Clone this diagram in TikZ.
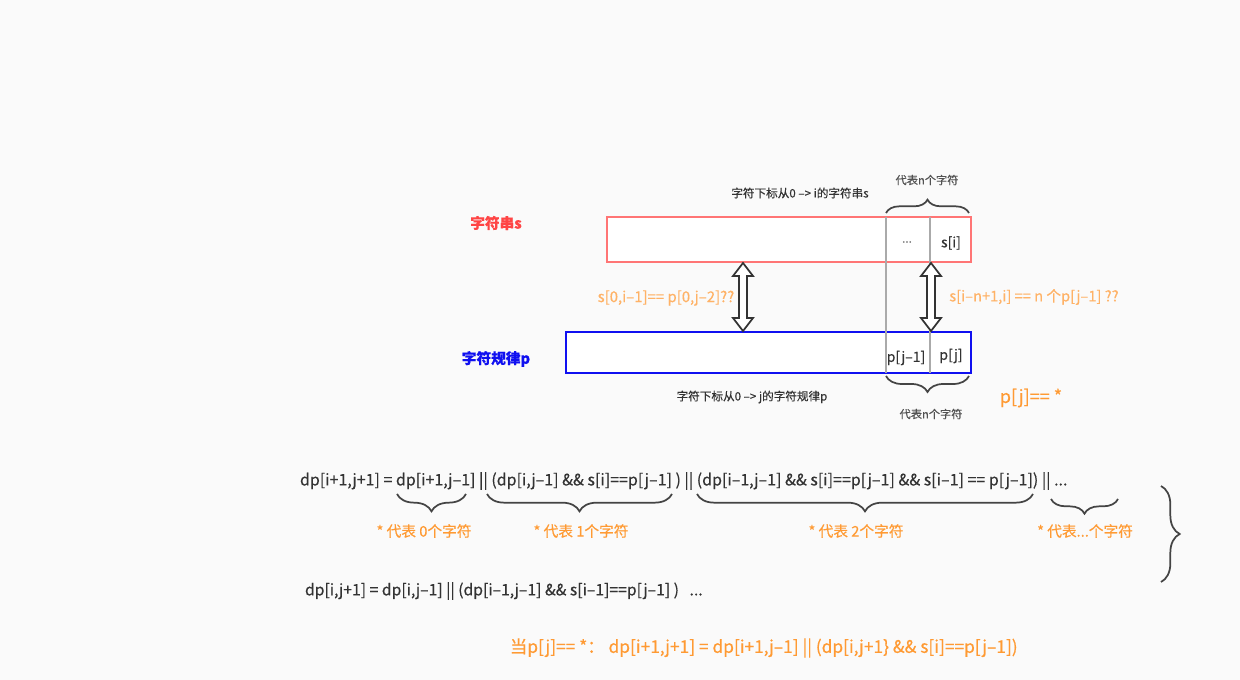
\documentclass[tikz,border=0pt]{standalone}
\usepackage{fontspec}
\setmainfont{Noto Sans CJK SC}[FakeBold=0.35]
\usetikzlibrary{decorations.pathreplacing,calc}
\definecolor{bg}{HTML}{FAFAFA}
\definecolor{txt}{HTML}{333333}
\definecolor{sred}{HTML}{FF7575}
\definecolor{slab}{HTML}{FF4545}
\definecolor{pblue}{HTML}{1010F0}
\definecolor{orng}{HTML}{FF9A33}
\definecolor{lorng}{HTML}{FFB266}
\definecolor{gline}{HTML}{AAAAAA}
\definecolor{brc}{HTML}{444444}
\begin{document}
\begin{tikzpicture}[x=0.75pt,y=-0.75pt,
  every node/.style={inner sep=0pt, outer sep=0pt, text=txt},
  small/.style={font=\fontsize{8.7pt}{10pt}\selectfont},
  smallg/.style={font=\fontsize{8.4pt}{10pt}\selectfont, text=txt!85},
  mid/.style={font=\fontsize{10.5pt}{12pt}\selectfont},
  olab/.style={font=\fontsize{11pt}{13pt}\selectfont, text=orng},
  brace/.style={draw=brc, line width=1.3pt, decorate, decoration={brace, amplitude=#1}},
  dblarrow/.style={draw=txt, fill=white, line width=1.3pt, line join=miter}
]
\useasboundingbox[fill=bg] (0,0) rectangle (1240,680);

% boxes
\node[draw=sred, line width=1.5pt, fill=white, minimum width=364*0.75pt, minimum height=45*0.75pt, anchor=north west] (sbox) at (607,217) {};
\node[draw=pblue, line width=1.5pt, fill=white, minimum width=405*0.75pt, minimum height=41*0.75pt, anchor=north west] (pbox) at (566,332) {};

% gray lines
\coordinate (g1t) at (886,217);
\coordinate (g1b) at (886,373);
\coordinate (g2t) at (930,217);
\coordinate (g2b) at (930,373);
\draw[gline, line width=0.9pt] (g1t) -- (g1b);
\draw[gline, line width=0.9pt] (g2t) -- (g2b);

% double arrows
\coordinate (a1t) at (743,263);
\coordinate (a1b) at (743,331);
\coordinate (a2t) at (931,263);
\coordinate (a2b) at (931,331);
\foreach \t/\b in {a1t/a1b, a2t/a2b}{
  \draw[dblarrow] (\t) -- ($(\t)+(10,13)$) -- ($(\t)+(4,13)$) -- ($(\b)+(4,-13)$) -- ($(\b)+(10,-13)$) -- (\b)
     -- ($(\b)+(-10,-13)$) -- ($(\b)+(-4,-13)$) -- ($(\t)+(-4,13)$) -- ($(\t)+(-10,13)$) -- cycle;
}

% labels
\node[font=\fontsize{11pt}{13pt}\selectfont\bfseries, text=slab] (slabel) at (496,223) {字符串s};
\node[font=\fontsize{11pt}{13pt}\selectfont\bfseries, text=pblue] (plabel) at (496,359) {字符规律p};
\node[small] (stitle) at (800,193) {字符下标从0 –> i的字符串s};
\node[small] (ptitle) at (752,397) {字符下标从0 –> j的字符规律p};
\node[smallg] (ntop) at (927,180) {代表n个字符};
\node[smallg] (nbot) at (931,414) {代表n个字符};
\node[small, text=gray] (dots) at (907,242) {...};
\node[mid] (si) at (951,243) {s[i]};
\node[mid] (pj1) at (906,358) {p[j–1]};
\node[mid] (pj) at (951,356) {p[j]};
\node[font=\fontsize{13.5pt}{15pt}\selectfont, text=orng] (pjstar) at (1031,398) {p[j]== *};
\node[font=\fontsize{11.2pt}{13pt}\selectfont, text=lorng] (q1) at (666,298) {s[0,i–1]== p[0,j–2]??};
\node[font=\fontsize{11pt}{13pt}\selectfont, text=lorng] (q2) at (1034,297) {s[i–n+1,i] == n 个p[j–1] ??};

% braces around boxes
\coordinate (bt1) at (886,213);
\coordinate (bt2) at (969,213);
\draw[brace=10pt] (bt1) -- (bt2);
\coordinate (bb1) at (886,376);
\coordinate (bb2) at (969,376);
\draw[brace=12pt] (bb2) -- (bb1);

% formulas
\node[font=\fontsize{12pt}{14pt}\selectfont, anchor=west] (f1) at (300,481) {dp[i+1,j+1] = dp[i+1,j–1] || (dp[i,j–1] \&\& s[i]==p[j–1] ) || (dp[i–1,j–1] \&\& s[i]==p[j–1] \&\& s[i–1] == p[j–1]) || ...};
\node[font=\fontsize{11.8pt}{14pt}\selectfont, anchor=west] (f2) at (305,591) {dp[i,j+1] = dp[i,j–1] || (dp[i–1,j–1] \&\& s[i–1]==p[j–1] ) \ \ ...};
\node[font=\fontsize{13pt}{15pt}\selectfont, text=orng, anchor=west] (f3) at (510,648) {当p[j]== *： dp[i+1,j+1] = dp[i+1,j–1] || (dp[i,j+1\} \&\& s[i]==p[j–1])};

% braces under formula
\coordinate (c1a) at (397,494); \coordinate (c1b) at (466,494);
\coordinate (c2a) at (487,494); \coordinate (c2b) at (672,494);
\coordinate (c3a) at (697,494); \coordinate (c3b) at (1033,494);
\coordinate (c4a) at (1051,499); \coordinate (c4b) at (1118,499);
\draw[brace=13pt] (c1b) -- (c1a);
\draw[brace=13pt] (c2b) -- (c2a);
\draw[brace=13pt] (c3b) -- (c3a);
\draw[brace=11pt] (c4b) -- (c4a);
\node[olab] (l1) at (424,531) {* 代表 0个字符};
\node[olab] (l2) at (581,531) {* 代表 1个字符};
\node[olab] (l3) at (856,531) {* 代表 2个字符};
\node[olab] (l4) at (1085,531) {* 代表...个字符};

% big brace
\coordinate (bg1) at (1161,486);
\coordinate (bg2) at (1161,582);
\draw[brace=14pt] (bg1) -- (bg2);
\end{tikzpicture}
\end{document}
